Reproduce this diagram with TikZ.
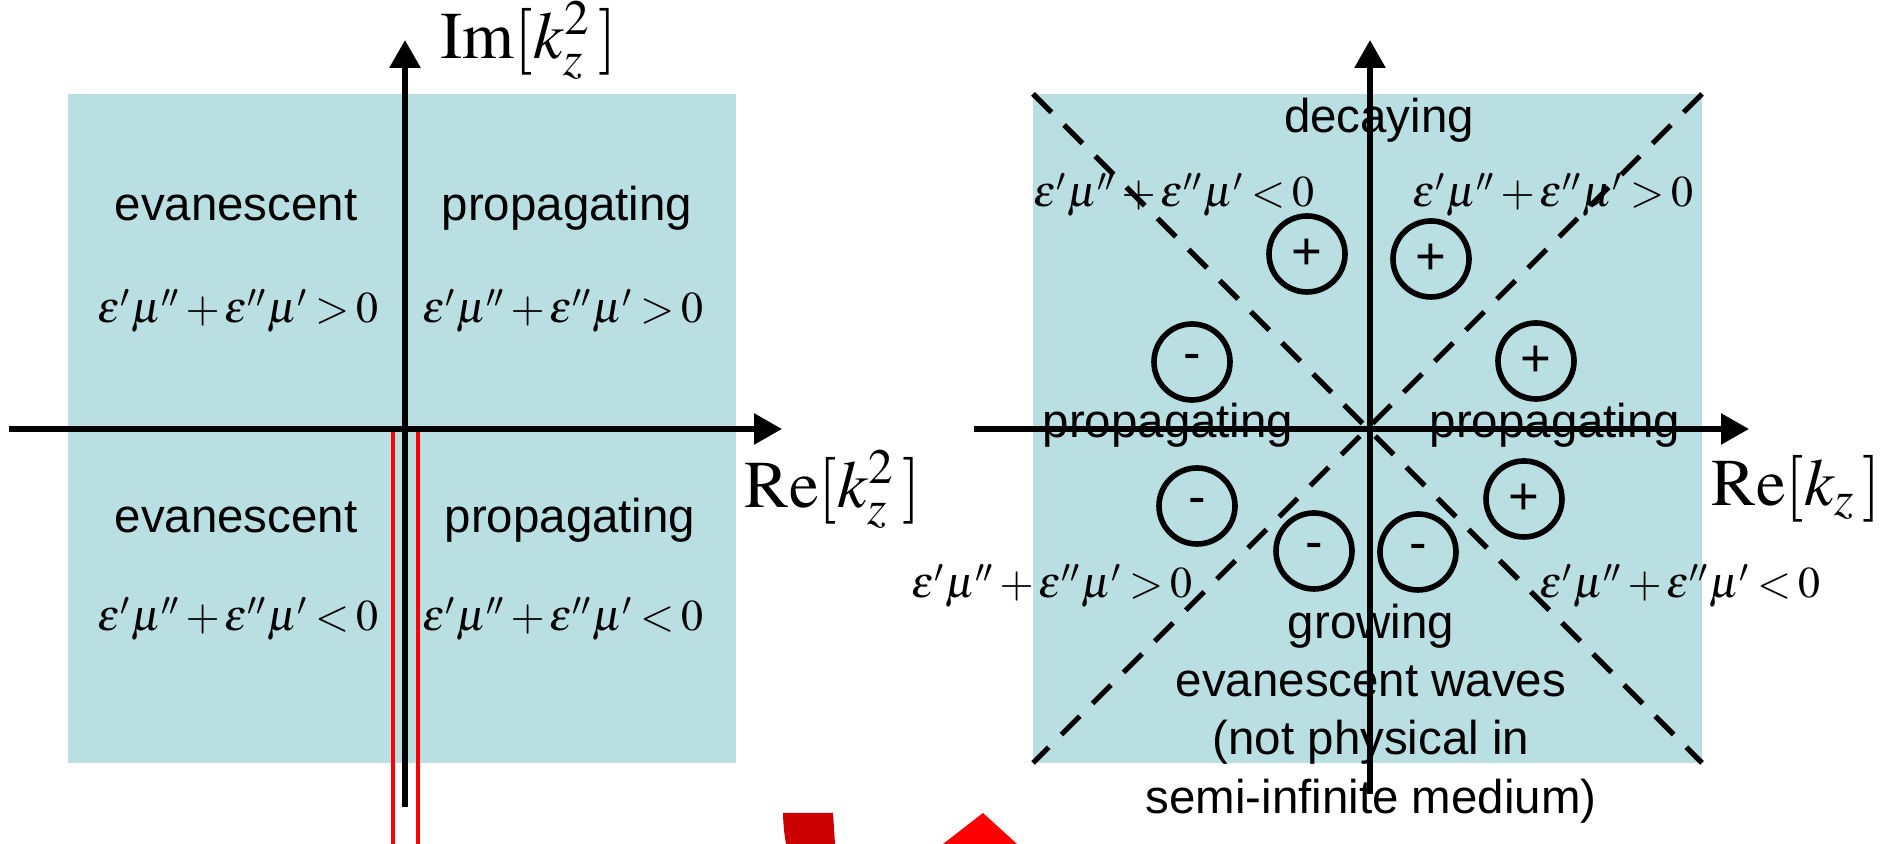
\documentclass[tikz,border=0pt]{standalone}
\usepackage{mathptmx}
\usepackage[no-math]{fontspec}
\newfontfamily\arialfont{Liberation Sans}
\usepackage{xcolor}
\usetikzlibrary{arrows.meta, positioning}
\definecolor{planefill}{RGB}{186,223,226}
\definecolor{markdark}{RGB}{204,0,0}

\begin{document}
\begin{tikzpicture}[
    axis/.style={draw=black, line width=1.6pt, -{Triangle[length=0.28cm, width=0.30cm]}},
    plane/.style={fill=planefill, draw=none},
    bound/.style={draw=black, line width=1.5pt, dash pattern=on 0.26cm off 0.18cm},
    region/.style={font=\arialfont\fontsize{13.5}{16}\selectfont, inner sep=0pt, anchor=base},
    cond/.style={font=\fontsize{12.5}{15}\selectfont, inner sep=0pt, anchor=base,
        execute at begin node={\medmuskip=2mu\relax\thickmuskip=3mu\relax}},
    axlbl/.style={font=\fontsize{19}{21}\selectfont, inner sep=0pt, anchor=base west},
    sign/.style={circle, draw=black, line width=1.6pt, minimum size=0.76cm, inner sep=0pt, font=\arialfont\fontsize{15}{16}\selectfont},
    cut/.style={draw=red, line width=0.9pt}
]
    \useasboundingbox (0,0) rectangle (18.93,8.44);

    % Left plane: k_z^2
    \fill [plane] (0.68,0.81) rectangle (7.36,7.50);
    \draw [cut] (3.93,4.12) -- (3.93,0);
    \draw [cut] (4.18,4.12) -- (4.18,0);
    \coordinate (sqW) at (0.09,4.15);
    \coordinate (sqE) at (7.82,4.15);
    \coordinate (sqS) at (4.05,0.37);
    \coordinate (sqN) at (4.05,8.04);
    \draw [axis] (sqW) -- (sqE);
    \draw [axis] (sqS) -- (sqN);
    \node (sqIm) at (4.40,7.85) [axlbl] {$\mathrm{Im}[k_z^2\,]$};
    \node (sqRe) at (7.44,3.36) [axlbl] {$\mathrm{Re}[k_z^2\,]$};

    \node (evUL) at (2.36,6.23) [region] {evanescent};
    \node (prUR) at (5.67,6.23) [region] {propagating};
    \node (cUL) at (2.38,5.21) [cond] {$\varepsilon'\mu''+\varepsilon''\mu'>0$};
    \node (cUR) at (5.63,5.21) [cond] {$\varepsilon'\mu''+\varepsilon''\mu'>0$};
    \node (evLL) at (2.36,3.11) [region] {evanescent};
    \node (prLR) at (5.70,3.11) [region] {propagating};
    \node (cLL) at (2.38,2.13) [cond] {$\varepsilon'\mu''+\varepsilon''\mu'<0$};
    \node (cLR) at (5.63,2.13) [cond] {$\varepsilon'\mu''+\varepsilon''\mu'<0$};

    % Right plane: k_z
    \fill [plane] (10.33,0.81) rectangle (17.02,7.50);
    \draw [bound] (10.33,7.50) -- (17.02,0.81);
    \draw [bound] (17.02,7.50) -- (10.33,0.81);
    \coordinate (kzW) at (9.74,4.15);
    \coordinate (kzE) at (17.49,4.15);
    \coordinate (kzS) at (13.70,0.50);
    \coordinate (kzN) at (13.70,8.04);
    \draw [axis] (kzW) -- (kzE);
    \draw [axis] (kzS) -- (kzN);
    \node (kzRe) at (17.11,3.38) [axlbl] {$\mathrm{Re}[k_z\,]$};

    \node (decay) at (13.79,7.11) [region] {decaying};
    \node (kUL) at (11.74,6.37) [cond] {$\varepsilon'\mu''+\varepsilon''\mu'<0$};
    \node (kUR) at (15.53,6.37) [cond] {$\varepsilon'\mu''+\varepsilon''\mu'>0$};
    \node (prW) at (11.68,4.06) [region] {propagating};
    \node (prE) at (15.55,4.06) [region] {propagating};
    \node (kLL) at (10.52,2.46) [cond] {$\varepsilon'\mu''+\varepsilon''\mu'>0$};
    \node (kLR) at (16.80,2.46) [cond] {$\varepsilon'\mu''+\varepsilon''\mu'<0$};
    \node (grow) at (13.71,2.41) [region, anchor=north, align=center, font=\arialfont\fontsize{13.5}{16.6}\selectfont]
        {growing\\evanescent waves\\(not physical in\\semi-infinite medium)};

    % Signs in the octants
    \node (s1) at (13.07,5.90) [sign] {+};
    \node (s2) at (14.31,5.85) [sign] {+};
    \node (s3) at (11.92,4.82) [sign] {-};
    \node (s4) at (15.36,4.83) [sign] {+};
    \node (s5) at (11.97,3.38) [sign] {-};
    \node (s6) at (15.24,3.45) [sign] {+};
    \node (s7) at (13.14,2.93) [sign] {-};
    \node (s8) at (14.18,2.92) [sign] {-};

    % Cut-off marks at the bottom edge
    \fill [markdark] (7.83,0.31) -- (8.33,0.31) -- (8.35,0) -- (7.86,0) to[bend left=4] cycle;
    \fill [red] (9.43,0) -- (9.83,0.31) -- (10.17,0) -- cycle;
\end{tikzpicture}
\end{document}
